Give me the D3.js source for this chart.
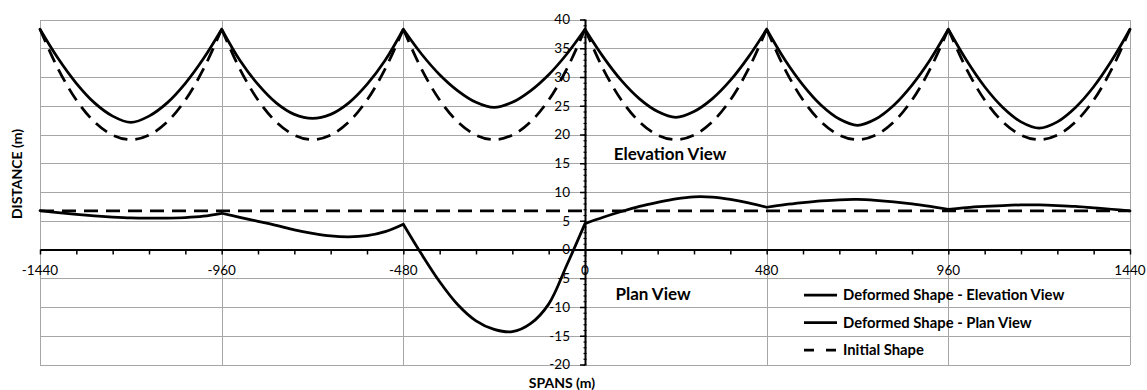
<!DOCTYPE html>
<html>
<head>
<meta charset="utf-8">
<script src="https://cdn.jsdelivr.net/npm/d3@7"></script>
<style>
  html, body { margin: 0; padding: 0; background: #fff; }
  svg { display: block; font-family: Lato, "Open Sans", sans-serif; }
</style>
</head>
<body>
<svg id="chart" width="1147" height="390"></svg>
<script>
// Stations along the bridge (m), 48 m apart, supports every 480 m
const stations = [
  -1440,-1392,-1344,-1296,-1248,-1200,-1152,-1104,-1056,-1008,
  -960,-912,-864,-816,-768,-720,-672,-624,-576,-528,
  -480,-432,-384,-336,-288,-240,-192,-144,-96,-48,
  0,48,96,144,192,240,288,336,384,432,
  480,528,576,624,672,720,768,816,864,912,
  960,1008,1056,1104,1152,1200,1248,1296,1344,1392,1440
];

// Deformed shape seen in elevation (m)
const elevationDeformed = [
  38.3,33.2,28.9,25.5,23.2,22.1,23.2,25.5,28.9,33.2,
  38.3,32.9,28.7,25.5,23.5,22.8,23.5,25.5,28.7,32.9,
  38.3,34.0,30.4,27.6,25.6,24.7,25.6,27.6,30.4,34.0,
  38.3,33.5,29.4,26.2,24.0,23.0,24.0,26.2,29.4,33.5,
  38.3,33.0,28.6,25.1,22.7,21.6,22.7,25.1,28.6,33.0,
  38.3,32.9,28.3,24.7,22.2,21.1,22.2,24.7,28.3,32.9,38.3
];

// Initial (undeformed) cable shape in elevation (m)
const elevationInitial = [
  38.3,31.4,26.0,22.2,19.9,19.1,19.9,22.2,26.0,31.4,
  38.3,31.4,26.0,22.2,19.9,19.1,19.9,22.2,26.0,31.4,
  38.3,31.4,26.0,22.2,19.9,19.1,19.9,22.2,26.0,31.4,
  38.3,31.4,26.0,22.2,19.9,19.1,19.9,22.2,26.0,31.4,
  38.3,31.4,26.0,22.2,19.9,19.1,19.9,22.2,26.0,31.4,
  38.3,31.4,26.0,22.2,19.9,19.1,19.9,22.2,26.0,31.4,38.3
];

// Deformed shape seen in plan (m)
const planDeformed = [
  6.75,6.4,6.1,5.85,5.65,5.5,5.45,5.45,5.55,5.8,
  6.3,5.6,4.9,4.2,3.4,2.8,2.35,2.2,2.4,3.1,
  4.4,-0.8,-5.6,-9.6,-12.4,-13.9,-14.3,-12.9,-9.5,-2.7,
  4.5,5.6,6.6,7.5,8.2,8.8,9.15,9.1,8.7,8.1,
  7.35,7.8,8.15,8.45,8.65,8.7,8.55,8.3,7.95,7.5,
  7.0,7.3,7.5,7.65,7.75,7.75,7.65,7.5,7.25,7.0,6.7
];

// Initial (straight) alignment in plan (m)
const planInitialX = [-1440, 1440];
const planInitial = [6.7, 6.7];

const supports = [-1440, -960, -480, 0, 480, 960, 1440];
const xTicks = [-1440, -960, -480, 0, 480, 960, 1440];
const yTicks = [-20, -15, -10, -5, 0, 5, 10, 15, 20, 25, 30, 35, 40];

const legendLabels = [
  "Deformed Shape - Elevation View",
  "Deformed Shape - Plan View",
  "Initial Shape"
];

const svg = d3.select("#chart");
const W = 1147, H = 390;
const plot = { left: 40, right: 1130, top: 19.5, bottom: 364.5 };

const x = d3.scaleLinear().domain([-1440, 1440]).range([plot.left, plot.right]);
const y = d3.scaleLinear().domain([-20, 40]).range([plot.bottom, plot.top]);

svg.append("rect").attr("width", W).attr("height", H).attr("fill", "#fff");

// Gridlines
const grid = svg.append("g").attr("stroke", "#a6a6a6").attr("stroke-width", 1).attr("shape-rendering", "crispEdges");
grid.selectAll("line.h").data(yTicks.filter(v => v !== 0)).join("line")
  .attr("x1", plot.left).attr("x2", plot.right)
  .attr("y1", d => Math.round(y(d)) + 0.5).attr("y2", d => Math.round(y(d)) + 0.5);
grid.selectAll("line.v").data(xTicks.filter(v => v !== 0)).join("line")
  .attr("x1", d => Math.round(x(d)) + 0.5).attr("x2", d => Math.round(x(d)) + 0.5)
  .attr("y1", plot.top).attr("y2", plot.bottom);

// Axes through the origin
const x0 = x(0), y0 = y(0);
const axisG = svg.append("g");

const xAxis = d3.axisBottom(x)
  .tickValues(d3.range(-1440, 1441, 96))
  .tickSize(5).tickSizeOuter(0).tickFormat("");
axisG.append("g").attr("transform", `translate(0,${y0})`).call(xAxis)
  .call(g => g.select(".domain").attr("stroke", "#000").attr("stroke-width", 2))
  .call(g => g.selectAll(".tick line").attr("stroke", "#000").attr("stroke-width", 1.5));

const yMinor = d3.axisRight(y).tickValues(d3.range(-20, 41, 1)).tickSize(3).tickSizeOuter(0).tickFormat("");
axisG.append("g").attr("transform", `translate(${x0 - 1.5},0)`).call(yMinor)
  .call(g => g.select(".domain").remove())
  .call(g => g.selectAll(".tick line").attr("stroke", "#000").attr("stroke-width", 1.2));
const yMajor = d3.axisLeft(y).tickValues(yTicks).tickSize(5).tickSizeOuter(0).tickFormat("");
axisG.append("g").attr("transform", `translate(${x0},0)`).call(yMajor)
  .call(g => g.select(".domain").attr("stroke", "#000").attr("stroke-width", 2))
  .call(g => g.selectAll(".tick line").attr("stroke", "#000").attr("stroke-width", 1.5));

// Tick labels
const labels = svg.append("g").attr("font-size", 13.5).attr("fill", "#000");
labels.selectAll("text.xl").data(xTicks).join("text")
  .attr("x", d => x(d)).attr("y", y0 + 25.5)
  .attr("text-anchor", "middle").text(d => d);
labels.selectAll("text.yl").data(yTicks).join("text")
  .attr("x", x0 - 15).attr("y", d => y(d) + 4.8)
  .attr("text-anchor", "end").text(d => d);

// Series paths, drawn span by span so the supports stay sharp
const pts = (vals) => stations.map((s, i) => [s, vals[i]]);
const lineGen = d3.line().x(d => x(d[0])).y(d => y(d[1])).curve(d3.curveCatmullRom.alpha(0.5));
function spanPath(vals) {
  const p = pts(vals);
  let dStr = "";
  for (let k = 0; k < supports.length - 1; k++) {
    dStr += lineGen(p.filter(q => q[0] >= supports[k] && q[0] <= supports[k + 1]));
  }
  return dStr;
}

const series = svg.append("g").attr("fill", "none");
series.append("path").attr("d", spanPath(elevationDeformed))
  .attr("stroke", "#000").attr("stroke-width", 2.75).attr("stroke-linecap", "round").attr("stroke-linejoin", "round");
series.append("path").attr("d", spanPath(planDeformed))
  .attr("stroke", "#000").attr("stroke-width", 2.75).attr("stroke-linecap", "round").attr("stroke-linejoin", "round");
series.append("path").attr("d", spanPath(elevationInitial))
  .attr("stroke", "#000").attr("stroke-width", 2.75).attr("stroke-dasharray", "14,8");
series.append("path")
  .attr("d", d3.line().x(d => x(d[0])).y(d => y(d[1]))(planInitialX.map((s, i) => [s, planInitial[i]])))
  .attr("stroke", "#000").attr("stroke-width", 2.75).attr("stroke-dasharray", "14,8");

// View annotations
const notes = svg.append("g").attr("font-size", 17).attr("font-weight", 700).attr("fill", "#000");
notes.append("text").attr("x", 670).attr("y", 160).attr("text-anchor", "middle").text("Elevation View");
notes.append("text").attr("x", 653).attr("y", 299.5).attr("text-anchor", "middle").text("Plan View");

// Axis titles
const titles = svg.append("g").attr("font-size", 14).attr("font-weight", 700).attr("fill", "#000");
titles.append("text").attr("transform", "translate(22,174) rotate(-90)")
  .attr("text-anchor", "middle").text("DISTANCE (m)");
titles.append("text").attr("x", 562).attr("y", 388).attr("text-anchor", "middle").text("SPANS (m)");

// Legend
const legend = svg.append("g").attr("font-size", 14.8).attr("font-weight", 700).attr("fill", "#000");
const rowY = [295, 322.7, 350];
const rowDash = [null, null, "10,12"];
legendLabels.forEach((t, i) => {
  legend.append("line").attr("x1", 804).attr("x2", 837).attr("y1", rowY[i]).attr("y2", rowY[i])
    .attr("stroke", "#000").attr("stroke-width", 2.75)
    .attr("stroke-dasharray", rowDash[i]);
  legend.append("text").attr("x", 843).attr("y", rowY[i] + 5).text(t);
});
</script>
</body>
</html>
